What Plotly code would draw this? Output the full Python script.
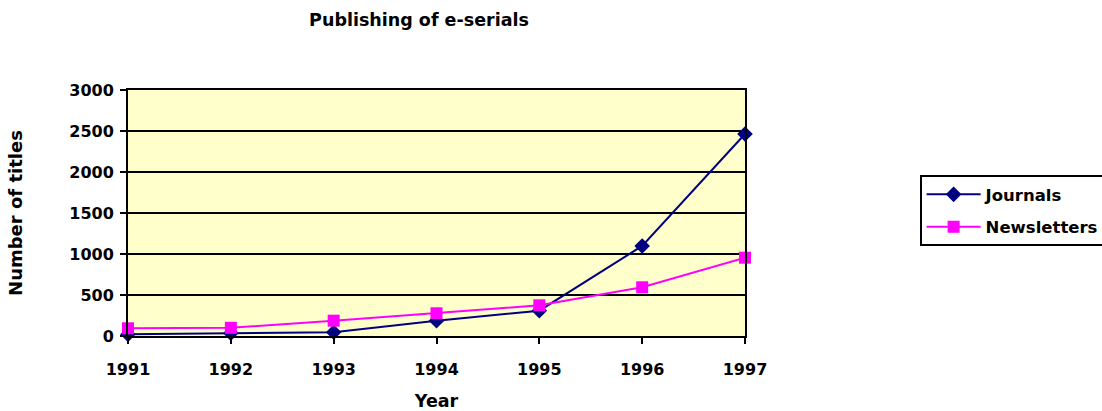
import plotly.graph_objects as go

years = [1991, 1992, 1993, 1994, 1995, 1996, 1997]
journals = [20, 35, 45, 187, 309, 1098, 2463]
newsletters = [94, 100, 187, 277, 374, 594, 955]
yticks = [0, 500, 1000, 1500, 2000, 2500, 3000]

font_family = "DejaVu Sans, Arial, sans-serif"

fig = go.Figure()
fig.add_trace(go.Scatter(
    x=years, y=journals, name="<b>Journals</b>", mode="lines+markers",
    legendgroup="j",
    line=dict(color="#000080", width=2),
    marker=dict(symbol="diamond", size=12, color="#000080"),
    cliponaxis=False,
))
fig.add_trace(go.Scatter(
    x=years, y=newsletters, name="<b>Newsletters</b>", mode="lines+markers",
    legendgroup="n",
    line=dict(color="#FF00FF", width=2),
    marker=dict(symbol="square", size=12, color="#FF00FF"),
    cliponaxis=False,
))

fig.update_layout(
    width=1102, height=411,
    margin=dict(l=128, r=357, t=90, b=75, autoexpand=False),
    paper_bgcolor="white",
    plot_bgcolor="#FFFFCC",
    font=dict(family=font_family, size=16, color="black"),
    title=dict(text="<b>Publishing of e-serials</b>", x=419/1102, xanchor="center",
               y=1 - 20/411, yanchor="middle", font=dict(size=17.5)),
    showlegend=True,
    legend=dict(x=1.283, y=0.654, xanchor="left", yanchor="top",
                bordercolor="black", borderwidth=2, bgcolor="white",
                font=dict(size=16.5), tracegroupgap=8, itemwidth=54),
    xaxis=dict(
        range=[1991, 1997], tickmode="array", tickvals=years,
        ticktext=[f"<b>{y}</b>" for y in years],
        showgrid=False, zeroline=False,
        showline=True, linecolor="black", linewidth=2, mirror=True,
        ticks="outside", ticklen=6, tickwidth=2, tickcolor="black",
        ticklabelstandoff=12,
        title=dict(text="<b>Year</b>", standoff=20, font=dict(size=17.5)),
        tickfont=dict(size=16),
    ),
    yaxis=dict(
        range=[0, 3000], tickmode="array", tickvals=yticks,
        ticktext=[f"<b>{v}</b>" for v in yticks],
        showgrid=True, gridcolor="black", gridwidth=2, zeroline=False,
        showline=True, linecolor="black", linewidth=2, mirror=True,
        ticks="outside", ticklen=6, tickwidth=2, tickcolor="black",
        ticklabelstandoff=3,
        title=dict(text="<b>Number of titles</b>", standoff=42, font=dict(size=18)),
        tickfont=dict(size=16),
    ),
)

fig.write_html("out.html")
